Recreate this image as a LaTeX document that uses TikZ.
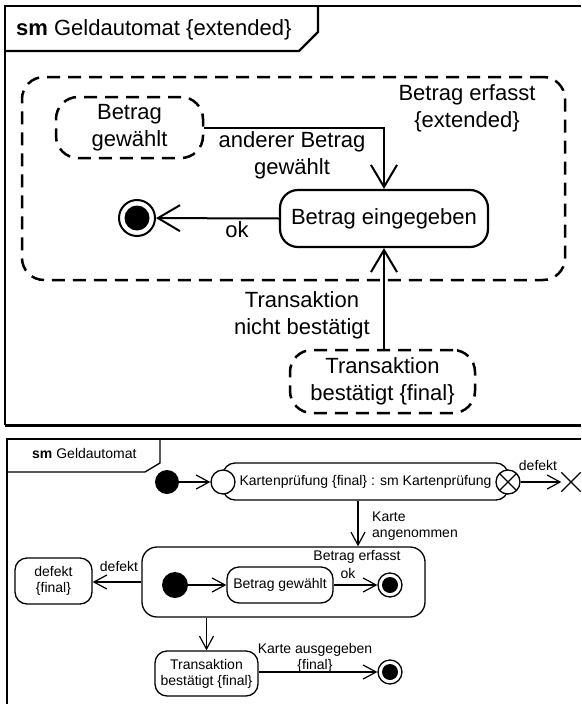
\documentclass[tikz,border=0pt]{standalone}
\usepackage{fontspec}
\setmainfont{Liberation Sans}
\usetikzlibrary{arrows.meta,calc,shapes.misc}
\newcommand\bigf{\fontsize{22}{27}\selectfont}
\newcommand\smallf{\fontsize{14}{16}\selectfont}
\begin{document}
\begin{tikzpicture}[x=1pt,y=-1pt,
  bigtxt/.style={font=\bigf,inner sep=0pt,align=center},
  smalltxt/.style={font=\smallf,inner sep=0pt,align=center},
  tarrow/.style={line width=2pt,-{Straight Barb[length=22pt,width=26pt,line width=2pt]}},
  sarrow/.style={line width=1.2pt,-{Straight Barb[length=13pt,width=14pt,line width=1.2pt]}},
  dstate/.style={draw,line width=2.5pt,dash pattern=on 13pt off 8pt,rounded corners=22pt,inner sep=0pt,align=center,font=\bigf},
  bstate/.style={draw,line width=2.2pt,rounded corners=18pt,inner sep=0pt,align=center,font=\bigf},
  sstate/.style={draw,line width=1.3pt,rounded corners=12pt,inner sep=0pt,align=center,font=\smallf},
  bigfinal/.style={circle,draw,line width=2pt,minimum size=36pt,inner sep=0pt,
    path picture={\fill (path picture bounding box.center) circle (12.5pt);}},
  smallfinal/.style={circle,draw,line width=1.3pt,minimum size=24pt,inner sep=0pt,
    path picture={\fill (path picture bounding box.center) circle (8pt);}},
  initstate/.style={circle,fill,inner sep=0pt},
  pseudo/.style={circle,draw,fill=white,line width=1.3pt,minimum size=24pt,inner sep=0pt},
]
\useasboundingbox (0,0) rectangle (581,704);

% ---------- top frame ----------
\draw[line width=2.5pt] (581,6) -- (5,6) -- (5,425);
\draw[line width=3pt] (5,425) -- (581,425);
\draw[line width=2.2pt] (5,51) -- (299,51) -- (318,32) -- (318,6);
\node[bigtxt,anchor=base west] (h1) at (16,35) {\textbf{sm} Geldautomat \{extended\}};

\node[dstate,minimum width=543pt,minimum height=203pt] (erf) at (293.5,178.5) {};
\node[bigtxt,anchor=north] (erfl) at (467,84.2) {Betrag erfasst\\\{extended\}};

\node[dstate,minimum width=147pt,minimum height=61pt] (gew) at (129.5,127.5) {Betrag\\gewählt};
\node[bstate,minimum width=208pt,minimum height=57pt] (ein) at (384,218.5) {Betrag eingegeben};
\node[bigfinal] (fin1) at (137,218) {};
\node[dstate,minimum width=185pt,minimum height=63pt] (tb) at (382.5,381.5) {Transaktion\\bestätigt \{final\}};

\draw[tarrow] (gew.east) -| (ein.north);
\draw[tarrow] (ein.west) -- (fin1);
\draw[tarrow] (tb.north -| ein.south) -- (ein.south);

\node[bigtxt,anchor=north] (l1) at (292,131.2) {anderer Betrag\\gewählt};
\node[bigtxt,anchor=base] (l2) at (237,237) {ok};
\node[bigtxt,anchor=north] (l3) at (302,291.2) {Transaktion\\nicht bestätigt};

% ---------- bottom frame ----------
\draw[line width=1.6pt] (581,439) -- (7,439) -- (7,704);
\draw[line width=1.3pt] (7,472) -- (145,472) -- (160,463) -- (160,439);
\node[smalltxt,anchor=base west] (h2) at (32,458) {\textbf{sm} Geldautomat};

\node[initstate,minimum size=24pt] (i1) at (167,482) {};
\node[sstate,minimum width=285pt,minimum height=37pt] (kp) at (365.5,481.5) {Kartenprüfung \{final\} : sm Kartenprüfung};
\node[pseudo] (en) at (223,482) {};
\node[pseudo,path picture={\draw[line width=1.3pt]
   (path picture bounding box.south west) -- (path picture bounding box.north east)
   (path picture bounding box.north west) -- (path picture bounding box.south east);}] (ex) at (508,482) {};
\node[cross out,draw,line width=1.3pt,minimum size=18pt,inner sep=0pt] (term) at (571,482) {};

\draw[sarrow] (i1) -- (en);
\draw[sarrow] (ex) -- (term);
\node[smalltxt,anchor=base] (ldef1) at (538,470) {defekt};

\node[sstate,rounded corners=15pt,minimum width=283pt,minimum height=70pt] (be) at (283.5,582) {};
\node[smalltxt,anchor=base] (bel) at (357,560) {Betrag erfasst};
\draw[sarrow] ([xshift=-7.5pt]kp.south) -- ([xshift=-7.5pt]kp.south |- be.north);
\node[smalltxt,anchor=north west,align=left] (lka) at (372,512) {Karte\\angenommen};

\node[initstate,minimum size=26pt] (i2) at (175,585) {};
\node[sstate,minimum width=106pt,minimum height=36pt] (bg) at (280,585) {Betrag gewählt};
\node[smallfinal] (f2) at (390,585) {};
\draw[sarrow] (i2) -- (bg);
\draw[sarrow] (bg) -- (f2);
\node[smalltxt,anchor=base] (lok) at (348,578) {ok};

\node[sstate,minimum width=77pt,minimum height=46pt] (def) at (53.5,581) {defekt\\\{final\}};
\draw[sarrow] (be.west) -- (be.west -| def.east);
\node[smalltxt,anchor=base] (ldef2) at (119,571) {defekt};

\node[sstate,minimum width=103pt,minimum height=45pt] (tb2) at (206.5,673.5) {Transaktion\\bestätigt \{final\}};
\draw[sarrow] (tb2.north |- be.south) -- (tb2.north);
\node[smallfinal] (f3) at (390,672) {};
\draw[sarrow] (tb2.east |- f3) -- (f3);
\node[smalltxt,anchor=north] (lka2) at (315,643) {Karte ausgegeben\\\{final\}};
\end{tikzpicture}
\end{document}
